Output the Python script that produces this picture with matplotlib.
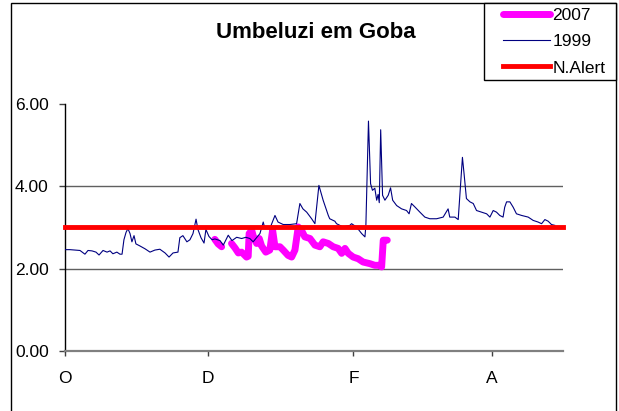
import matplotlib
matplotlib.use("Agg")
import matplotlib.pyplot as plt
from matplotlib.patches import Rectangle
import numpy as np

plt.rcParams['font.family'] = ['Liberation Sans', 'DejaVu Sans']

title = "Umbeluzi em Goba"
tick_days = [0, 61, 123, 182]
tick_labels = ["O", "D", "F", "A"]
y_ticks = [0, 2, 4, 6]
alert_level = 3.0

days_1999 = [0, 2.3, 4.5, 6.6, 8.7, 10.0, 11.7, 13.4, 14.7, 16.4, 18.1, 19.4, 20.6, 22.3,
             23.6, 24.5, 25.3, 26.2, 27.0, 27.9, 28.7, 29.6, 30.4, 32.1, 34.3, 36.4, 38.5,
             40.6, 42.8, 44.5, 46.2, 48.3, 49.1, 50.4, 52.1, 53.4, 54.7, 56.0, 56.8, 58.1,
             59.4, 60.2, 61.5, 62.8, 64.0, 66.2, 67.6, 69.7, 71.3, 73.3, 75.4, 77.2, 78.9,
             80.3, 81.9, 83.2, 84.6, 85.3, 87.4, 89.6, 90.9, 93.1, 96.0, 98.8, 100.2, 101.5,
             103.1, 105.2, 106.6, 108.3, 110.1, 112.3, 112.9, 115.1, 115.8, 118.6, 121.5,
             122.2, 124.3, 126.5, 127.9, 128.3, 129.4, 130.3, 131.1, 132.1, 132.9, 133.5,
             134.0, 134.6, 135.4, 136.4, 137.8, 138.8, 139.7, 141.4, 143.5, 145.6, 146.7,
             147.7, 149.1, 151.3, 153.4, 155.5, 158.4, 161.2, 163.3, 164.0, 166.2, 167.6,
             168.6, 169.4, 170.1, 171.1, 172.6, 174.0, 175.4, 177.5, 179.7, 181.1, 182.5,
             183.9, 185.3, 186.7, 187.4, 188.2, 189.6, 191.0, 192.4, 194.6, 197.4, 199.5,
             201.6, 203.1, 204.5, 205.9, 207.3, 208.7]
vals_1999 = [2.46, 2.46, 2.45, 2.44, 2.35, 2.44, 2.43, 2.40, 2.33, 2.44, 2.40, 2.43, 2.36, 2.40,
             2.35, 2.35, 2.70, 2.88, 2.97, 2.85, 2.65, 2.80, 2.60, 2.55, 2.48, 2.40, 2.45,
             2.47, 2.38, 2.28, 2.38, 2.40, 2.75, 2.80, 2.65, 2.70, 2.85, 3.20, 2.95, 2.75,
             2.62, 2.95, 2.78, 2.70, 2.72, 2.68, 2.57, 2.81, 2.68, 2.76, 2.73, 2.76, 2.73,
             2.65, 2.76, 2.85, 3.13, 2.97, 2.97, 3.29, 3.13, 3.07, 3.07, 3.09, 3.58, 3.45,
             3.37, 3.21, 3.09, 4.02, 3.66, 3.29, 3.21, 3.15, 3.09, 3.01, 3.05,
             3.09, 3.01, 2.85, 2.77, 3.05, 5.58, 4.06, 3.90, 3.95, 3.66, 3.80,
             3.60, 5.37, 3.78, 3.66, 3.78, 3.96, 3.66, 3.53, 3.45, 3.41, 3.33,
             3.58, 3.50, 3.37, 3.25, 3.21, 3.21, 3.25, 3.45, 3.25, 3.25, 3.19,
             4.02, 4.70, 4.30, 3.70, 3.62, 3.58, 3.41, 3.37, 3.33, 3.25, 3.41,
             3.37, 3.29, 3.25, 3.49, 3.62, 3.62, 3.49, 3.33, 3.29, 3.25, 3.17,
             3.13, 3.09, 3.19, 3.15, 3.07, 3.05]

days_2007 = [64.0, 65.4, 66.9, 68.0, 71.1, 72.6, 74.0, 75.4, 77.5, 78.2, 78.6, 79.7, 80.3,
             81.8, 82.9, 83.9, 85.7, 87.4, 88.6, 89.6, 91.7, 93.1, 95.2, 96.7, 98.1, 99.5,
             100.9, 102.3, 104.5, 106.6, 108.7, 110.1, 112.3, 114.4, 116.5, 118.0, 119.4,
             120.8, 122.9, 125.0, 127.1, 130.0, 132.1, 134.3, 135.0, 135.7, 137.4]
vals_2007 = [2.71, 2.60, 2.53, np.nan, 2.61, 2.50, 2.38, 2.40, 2.28, 2.30, 2.85, 2.93, 2.80,
             2.61, 2.73, 2.55, 2.40, 2.45, 2.93, 2.53, 2.53, 2.45, 2.32, 2.28, 2.45, 3.01,
             2.93, 2.77, 2.73, 2.57, 2.53, 2.65, 2.61, 2.53, 2.49, 2.37, 2.49,
             2.37, 2.28, 2.24, 2.16, 2.12, 2.08, 2.08, 2.04, 2.69, 2.69]

x_end = 212

W, H = 619, 411
fig = plt.figure(figsize=(W / 100, H / 100), dpi=100)
ax = fig.add_axes([64.5 / W, 1 - 351 / H, (562.5 - 64.5) / W, (351 - 103.8) / H])

# outer chart border (bottom edge cut off)
fig.patches.append(Rectangle((11.2 / W, -0.2), (616 - 11.2) / W, 1.2 - 3 / H,
                             transform=fig.transFigure, fill=False, edgecolor='black',
                             linewidth=1.0, zorder=0))

for g in [2, 4]:
    ax.axhline(g, color='#606060', linewidth=1.0, zorder=1)

l2007, = ax.plot(days_2007, vals_2007, color='#FF00FF', linewidth=5,
                 solid_capstyle='round', solid_joinstyle='round', zorder=3, label='2007')
l1999, = ax.plot(days_1999, vals_1999, color='#000080', linewidth=0.8, zorder=4, label='1999')
lalert, = ax.plot([0, x_end], [alert_level, alert_level], color='#FF0000', linewidth=3.5,
                  zorder=5, clip_on=False, label='N.Alert')

ax.set_xlim(0, x_end)
ax.set_ylim(0, 6)
ax.set_yticks(y_ticks)
ax.set_yticklabels([f"{v:.2f}" for v in y_ticks])
ax.set_xticks(tick_days)
ax.set_xticklabels(tick_labels)

for s in ['top', 'right']:
    ax.spines[s].set_visible(False)
ax.spines['left'].set_color('black')
ax.spines['left'].set_linewidth(1.0)
ax.spines['bottom'].set_color('#808080')
ax.spines['bottom'].set_linewidth(1.6)

ax.tick_params(axis='y', direction='out', length=4.3, width=1, color='#404040',
               pad=7, labelsize=12.5)
ax.tick_params(axis='x', direction='out', length=3.6, width=1, color='#404040',
               pad=11, labelsize=12.5)

fig.text(315.5 / W, 1 - 38.3 / H, title, ha='center', va='baseline',
         fontsize=16, fontweight='bold')

# legend box
fig.patches.append(Rectangle((484 / W, 1 - 80 / H), (616 - 484) / W, (80 - 3) / H,
                             transform=fig.transFigure, facecolor='white',
                             edgecolor='black', linewidth=1.0, zorder=5))
leg = fig.legend(handles=[l2007, l1999, lalert], loc='upper left',
                 bbox_to_anchor=(503 / W, 1 - 7.5 / H),
                 frameon=False, fontsize=12.5, handlelength=2.7, handletextpad=0.15,
                 labelspacing=0.65, borderpad=0, borderaxespad=0)
leg.set_zorder(6)

fig.savefig("out.png", dpi=100)
